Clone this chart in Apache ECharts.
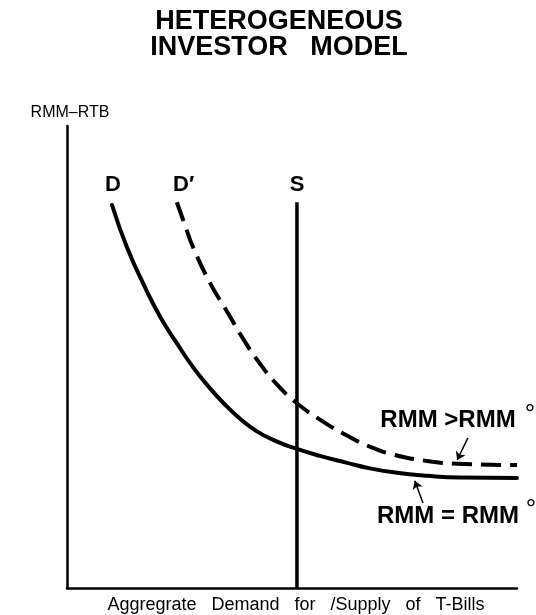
<!DOCTYPE html>
<html>
<head>
<meta charset="utf-8">
<script src="https://cdn.jsdelivr.net/npm/echarts@6/dist/echarts.min.js"></script>
<style>
html,body{margin:0;padding:0;background:#fff;}
#chart{width:536px;height:615px;}
</style>
</head>
<body>
<div id="chart"></div>
<script>
// Demand curve D (x = quantity, y = RMM-RTB spread), abstract 0..100 units
var demandX = [10.0, 13.3, 16.9, 20.7, 24.4, 28.0, 31.8, 34.7, 38.4, 42.2, 46.7, 51.1, 56.2, 61.8, 67.3, 72.9, 80.0, 87.3, 100];
var demandY = [82.9, 73.8, 66.0, 58.7, 53.0, 47.8, 43.2, 40.1, 36.7, 33.9, 31.7, 30.1, 28.6, 27.2, 25.9, 25.0, 24.3, 23.9, 23.8];
// Shifted demand curve D'
var demand2X = [24.4, 26.2, 28.0, 31.8, 35.6, 39.1, 42.4, 46.7, 51.1, 56.9, 62.2, 67.3, 72.4, 80.0, 86.7, 100];
var demand2Y = [83.5, 78.6, 73.8, 66.0, 59.8, 54.0, 49.2, 44.0, 40.0, 36.0, 33.0, 30.6, 28.9, 27.5, 26.9, 26.6];
// Vertical supply S
var supplyX = [51.1, 51.1];
var supplyY = [0, 83.5];
// Annotation arrows [from, to]
var arrowUpper = [[89.1, 32.5], [86.7, 27.7]];
var arrowLower = [[79.1, 18.4], [77.3, 23.2]];
// Texts
var titleLines = ["HETEROGENEOUS", "INVESTOR   MODEL"];
var yAxisName = "RMM\u2013RTB";
var xAxisName = "Aggregrate   Demand   for   /Supply   of   T-Bills";
var curveLabels = ["D", "D\u2032", "S"];
var noteUpper = "RMM >RMM";
var noteLower = "RMM = RMM";
var degree = "\u00B0";

function zip(xs, ys) { return xs.map(function (x, i) { return [x, ys[i]]; }); }

var chart = echarts.init(document.getElementById('chart'), null, {renderer: 'canvas'});
var FONT = '"Liberation Sans", Arial, Helvetica, sans-serif';
var axisCommon = {
  type: 'value', min: 0, max: 100,
  axisTick: {show: false}, axisLabel: {show: false}, splitLine: {show: false},
  axisLine: {show: true, lineStyle: {color: '#000', width: 2.5}}
};
var option = {
  backgroundColor: '#fff',
  animation: false,
  grid: {left: 67, right: 19, top: 126, bottom: 27, containLabel: false},
  xAxis: axisCommon,
  yAxis: axisCommon,
  series: [
    {type: 'line', data: zip(demandX, demandY), smooth: 0.5, showSymbol: false, clip: false,
     lineStyle: {color: '#000', width: 4, cap: 'round'}},
    {type: 'line', data: zip(demand2X, demand2Y), smooth: 0.5, showSymbol: false, clip: false,
     lineStyle: {color: '#000', width: 4, type: [20, 9], cap: 'butt'}},
    {type: 'line', data: zip(supplyX, supplyY), showSymbol: false, clip: false,
     lineStyle: {color: '#000', width: 3.5}},
    {type: 'lines', coordinateSystem: 'cartesian2d', symbol: ['none', 'arrow'], symbolSize: 8,
     lineStyle: {color: '#000', width: 1.5, opacity: 1, curveness: 0},
     data: [{coords: arrowUpper}, {coords: arrowLower}]}
  ],
  graphic: [
    {type: 'text', x: 279, y: 22, style: {text: titleLines[0], font: 'bold 27px ' + FONT, fill: '#000', textAlign: 'center', textVerticalAlign: 'middle'}},
    {type: 'text', x: 279, y: 48, style: {text: titleLines[1], font: 'bold 27px ' + FONT, fill: '#000', textAlign: 'center', textVerticalAlign: 'middle'}},
    {type: 'text', x: 70, y: 113, style: {text: yAxisName, font: '16px ' + FONT, fill: '#000', textAlign: 'center', textVerticalAlign: 'middle'}},
    {type: 'text', x: 296, y: 605, style: {text: xAxisName, font: '18px ' + FONT, fill: '#000', textAlign: 'center', textVerticalAlign: 'middle'}},
    {type: 'text', x: 113, y: 185, style: {text: curveLabels[0], font: 'bold 22px ' + FONT, fill: '#000', textAlign: 'center', textVerticalAlign: 'middle'}},
    {type: 'text', x: 173, y: 185, style: {text: curveLabels[1], font: 'bold 22px ' + FONT, fill: '#000', textAlign: 'left', textVerticalAlign: 'middle'}},
    {type: 'text', x: 297, y: 185, style: {text: curveLabels[2], font: 'bold 22px ' + FONT, fill: '#000', textAlign: 'center', textVerticalAlign: 'middle'}},
    {type: 'text', x: 448, y: 420, style: {text: noteUpper, font: 'bold 24px ' + FONT, fill: '#000', textAlign: 'center', textVerticalAlign: 'middle'}},
    {type: 'text', x: 530, y: 415, style: {text: degree, font: '26px ' + FONT, fill: '#000', textAlign: 'center', textVerticalAlign: 'middle'}},
    {type: 'text', x: 448, y: 516, style: {text: noteLower, font: 'bold 24px ' + FONT, fill: '#000', textAlign: 'center', textVerticalAlign: 'middle'}},
    {type: 'text', x: 531, y: 510, style: {text: degree, font: '26px ' + FONT, fill: '#000', textAlign: 'center', textVerticalAlign: 'middle'}}
  ]
};
chart.setOption(option);
</script>
</body>
</html>
